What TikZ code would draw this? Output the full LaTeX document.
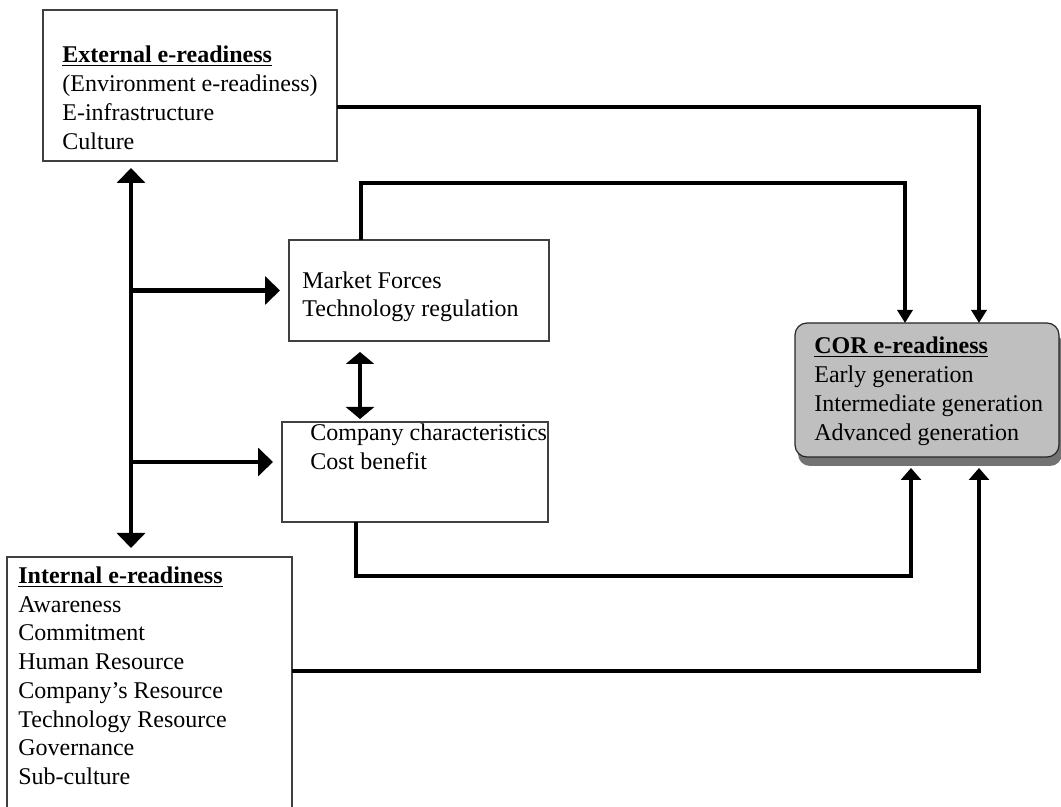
\documentclass[tikz,border=0pt]{standalone}
\usepackage{fontspec}
\setmainfont{Liberation Serif}
\usetikzlibrary{arrows.meta,positioning,calc,shadows}

\begin{document}
\begin{tikzpicture}[x=0.5pt,y=-0.5pt,
    box/.style={draw=black!75,line width=0.6pt,rectangle,anchor=north west,inner sep=0pt,outer sep=0pt},
    corbox/.style={box,draw=black!85,fill=black!25,rounded corners=6pt,
      drop shadow={shadow xshift=1.5pt,shadow yshift=-4.5pt,fill=black!55,opacity=1}},
    txt/.style={anchor=north west,align=left,inner sep=0pt,font=\fontsize{12}{14.5}\selectfont},
    conn/.style={line width=1.6pt},
    heavy/.style={line width=2.4pt},
    toparrow/.style={-{Triangle[length=6.5pt,width=7.5pt]}},
    botarrow/.style={-{Triangle[length=6pt,width=10pt]}},
    bigarrow/.style={-{Triangle[length=7.5pt,width=14pt]}}]
  \useasboundingbox (0,0) rectangle (1061,807);
  % boxes
  \node[box,minimum width=147pt,minimum height=75.5pt] (ext) at (43,10) {};
  \node[box,minimum width=130pt,minimum height=50.5pt] (mkt) at (289,240) {};
  \node[box,minimum width=133pt,minimum height=50pt] (comp) at (282,422) {};
  \node[box,minimum width=142.5pt,minimum height=130pt] (int) at (7,557) {};
  \node[corbox,minimum width=132pt,minimum height=67pt] (cor) at (795,323) {};
  % texts
  \node[txt] (exttxt) at (62,45.5) {\underline{\textbf{External e-readiness}}\\(Environment e-readiness)\\E-infrastructure\\Culture};
  \node[txt,font=\fontsize{12}{14}\selectfont] (mkttxt) at (302,271.5) {Market Forces\\Technology regulation};
  \node[txt] (comptxt) at (310,423.5) {Company characteristics\\Cost benefit};
  \node[txt,font=\fontsize{12}{14.35}\selectfont] (inttxt) at (18,566.5) {\underline{\textbf{Internal e-readiness}}\\Awareness\\Commitment\\Human Resource\\Company's Resource\\Technology Resource\\Governance\\Sub-culture};
  \node[txt] (cortxt) at (814,336.5) {\underline{\textbf{COR e-readiness}}\\Early generation\\Intermediate generation\\Advanced generation};
  % links to COR
  \draw[conn,toparrow] ($(ext.east)+(0,21.5)$) -| ($(cor.north)+(52,0)$);
  \draw[conn,toparrow] ($(mkt.north)+(-58,0)$) -- ++(0,-57) -| ($(cor.north)+(-22,0)$);
  \draw[conn,botarrow] ($(comp.south)+(-59,0)$) -- ++(0,54) -| ($(cor.south)+(-16,11)$);
  \draw[conn,botarrow] ($(int.east)+(0,-16)$) -| ($(cor.south)+(52,11)$);
  % left trunk
  \coordinate (trunk) at (131,0);
  \draw[heavy,{Triangle[length=7.5pt,width=14pt]}-{Triangle[length=7.5pt,width=14pt]}]
    ($(ext.south -| trunk)+(0,7)$) -- ($(int.north -| trunk)+(0,-9)$);
  \draw[heavy,bigarrow] (mkt.west -| trunk) -- ($(mkt.west)+(-9,0)$);
  \draw[heavy,bigarrow] ($(comp.west -| trunk)+(0,-10)$) -- ($(comp.west)+(-9,-10)$);
  \draw[line width=2pt,{Triangle[length=6pt,width=14pt]}-{Triangle[length=6pt,width=14pt]}]
    ($(mkt.south)+(-59,11)$) -- ($(mkt.south |- comp.north)+(-59,-3)$);
\end{tikzpicture}
\end{document}
